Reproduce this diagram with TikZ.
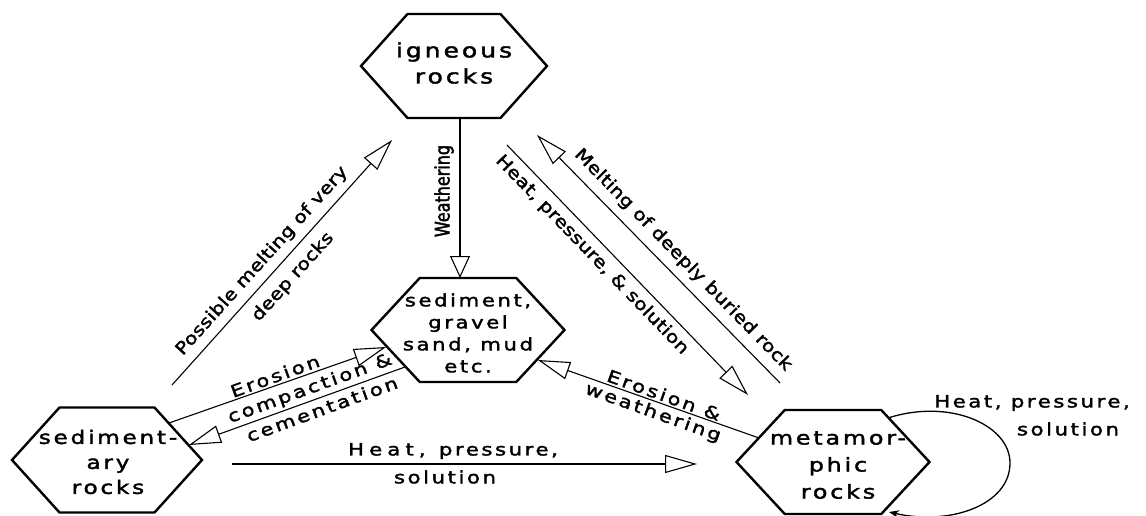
\documentclass[tikz,border=0pt]{standalone}
\usepackage{fontspec}
\usetikzlibrary{arrows.meta,calc}
\newfontfamily\lettering{DejaVu Sans}[FakeStretch=1.25,LetterSpace=15,FakeBold=2]
\newfontfamily\letteringd{DejaVu Sans}[FakeStretch=1.2,LetterSpace=1,FakeBold=2]
\newfontfamily\letteringc{DejaVu Sans}[FakeStretch=0.8,LetterSpace=0,FakeBold=2]
\newcommand\drawhex[3]{%
  \draw[hexline] ($(#1)+(-#2/2,0)$) -- ($(#1)+(-#2/4,-#3/2)$) -- ($(#1)+(#2/4,-#3/2)$)
    -- ($(#1)+(#2/2,0)$) -- ($(#1)+(#2/4,#3/2)$) -- ($(#1)+(-#2/4,#3/2)$) -- cycle;}
\tikzset{
  txt/.style={font=\lettering\fontsize{17}{22}\selectfont, inner sep=0pt, align=center},
  diag/.style={font=\letteringd\fontsize{17}{22}\selectfont, inner sep=0pt, align=center},
  hexline/.style={line width=2.4pt, line join=miter},
  flow/.style={line width=1.1pt, -{Triangle[open, length=32pt, width=18pt, line width=1.1pt]}},
  shortflow/.style={line width=1.1pt, -{Triangle[open, length=22pt, width=20pt, line width=1.1pt]}},
  loopflow/.style={line width=1.3pt, -{Stealth[length=10pt, width=8pt]}}
}
\begin{document}
\begin{tikzpicture}[x=1pt,y=-1pt]
\useasboundingbox[fill=white] (0,0) rectangle (1146,516);

% hexagon nodes
\node[txt, font=\lettering\fontsize{20}{26}\selectfont] (ign) at (454,63) {igneous\\rocks};
\node[txt, font=\lettering\fontsize{17}{22}\selectfont] (sed) at (468,333) {sediment,\\gravel\\sand, mud\\etc.};
\node[txt, font=\lettering\fontsize{18.5}{25}\selectfont] (sry) at (108,462) {sediment-\\ary\\rocks};
\node[txt, font=\lettering\fontsize{19}{27}\selectfont] (met) at (838,465) {metamor-\\phic\\rocks};
\drawhex{454,66}{186}{104}
\drawhex{468,330}{193}{104}
\drawhex{107,460}{190}{105}
\drawhex{833,462}{193}{104}

% connector end points
\coordinate (ignB) at ($(ign)+(6,55)$);
\coordinate (sedT) at ($(sed)+(-8,-55)$);
\coordinate (pmS) at (172,385);
\coordinate (pmE) at (392,140);
\coordinate (hpS) at (507,145);
\coordinate (hpE) at (748,395);
\coordinate (mdS) at (780,383);
\coordinate (mdE) at (537,135);
\coordinate (ewS) at (759,438);
\coordinate (ewE) at (538,360);
\coordinate (erS) at (169,423);
\coordinate (erE) at (386,347);
\coordinate (ccS) at (405,367);
\coordinate (ccE) at (189,445);
\coordinate (hbS) at (232,464);
\coordinate (hbE) at (697,464);
\coordinate (lpS) at (888,418);
\coordinate (lpE) at (889,512);

% connectors
\draw[shortflow] (ignB) -- (sedT);
\draw[flow] (pmS) -- (pmE);
\draw[flow] (hpS) -- (hpE);
\draw[flow] (mdS) -- (mdE);
\draw[flow] (ewS) -- (ewE);
\draw[flow] (erS) -- (erE);
\draw[flow] (ccS) -- (ccE);
\draw[flow] (hbS) -- (hbE);
\draw[loopflow] (lpS) .. controls (950,398) and (1010,425) .. (1010,463)
  .. controls (1010,505) and (950,526) .. (lpE);

% labels
\node[inner sep=0pt, font=\letteringc\fontsize{20}{24}\selectfont, rotate=90] (lw) at (444,191) {Weathering};
\node[diag, rotate=48] (lpm1) at (262,261) {Possible melting of very};
\node[diag, rotate=48] (lpm2) at (293,277) {deep rocks};
\node[diag, rotate=-46] (lhp) at (592,255) {Heat, pressure, \& solution};
\node[diag, rotate=-45.6] (lmd) at (683,260) {Melting of deeply buried rock};
\node[txt, rotate=-19.7] (lew1) at (664,395) {Erosion \&};
\node[txt, rotate=-19.7] (lew2) at (653,413) {weathering};
\node[txt, rotate=20] (ler) at (275,376) {Erosion};
\node[txt, rotate=20] (lcc1) at (310,389) {compaction \&};
\node[txt, rotate=20] (lcc2) at (322,409) {cementation};
\node[txt] (lhb1) at (453,451) {{\addfontfeature{LetterSpace=30}Heat,}\hspace{4pt} pressure,};
\node[txt] (lhb2) at (445,477) {solution};
\node[txt] (llp1) at (1032,403) {Heat, pressure,};
\node[txt] (llp2) at (1068,429) {solution};
\end{tikzpicture}
\end{document}
